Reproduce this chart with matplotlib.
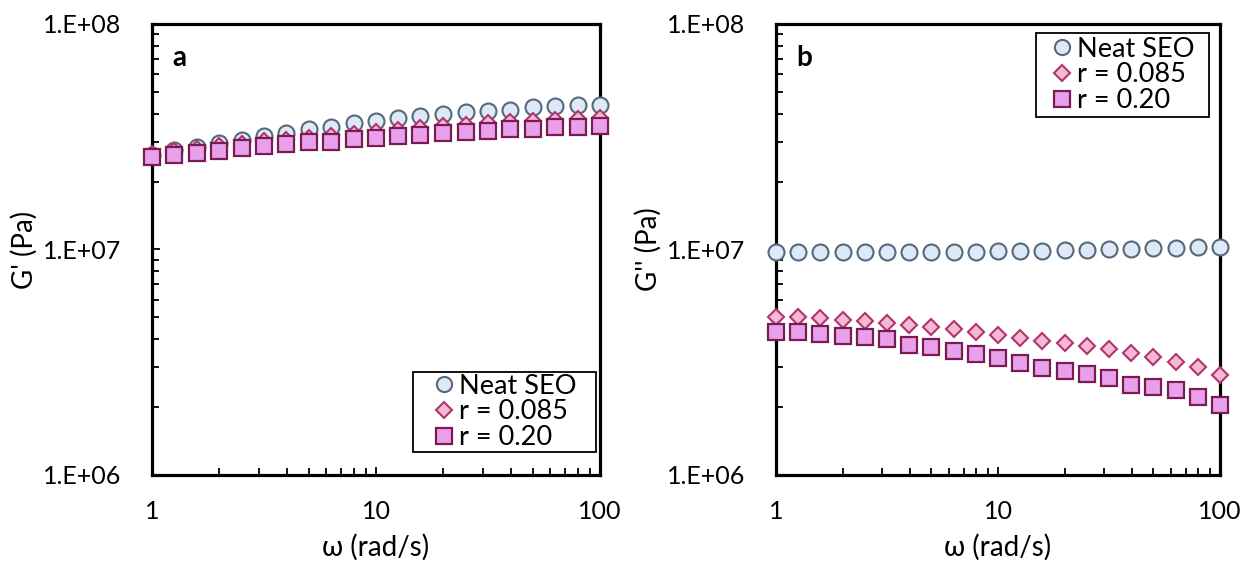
import numpy as np
import matplotlib
matplotlib.use("Agg")
import matplotlib.pyplot as plt
from matplotlib.patches import Rectangle
from matplotlib.ticker import LogLocator, NullFormatter, FixedLocator, FixedFormatter

plt.rcParams['font.family'] = ['Lato', 'DejaVu Sans']

# angular frequency (rad/s), 10 points per decade
omega = [1.0, 1.26, 1.58, 2.0, 2.51, 3.16, 3.98, 5.01, 6.31, 7.94, 10.0,
         12.6, 15.8, 20.0, 25.1, 31.6, 39.8, 50.1, 63.1, 79.4, 100.0]

# Storage modulus G' (Pa)
gp_neat = [2.62e7, 2.75e7, 2.86e7, 2.96e7, 3.06e7, 3.19e7, 3.28e7, 3.41e7, 3.51e7, 3.63e7, 3.71e7,
           3.82e7, 3.91e7, 3.99e7, 4.06e7, 4.13e7, 4.16e7, 4.27e7, 4.33e7, 4.36e7, 4.38e7]
gp_r085 = [2.64e7, 2.73e7, 2.79e7, 2.87e7, 2.94e7, 3.02e7, 3.07e7, 3.13e7, 3.18e7, 3.25e7, 3.33e7,
           3.39e7, 3.46e7, 3.52e7, 3.57e7, 3.63e7, 3.69e7, 3.71e7, 3.76e7, 3.79e7, 3.84e7]
gp_r20 = [2.56e7, 2.62e7, 2.68e7, 2.74e7, 2.81e7, 2.88e7, 2.93e7, 2.99e7, 3.01e7, 3.08e7, 3.13e7,
          3.18e7, 3.22e7, 3.28e7, 3.33e7, 3.36e7, 3.41e7, 3.43e7, 3.48e7, 3.49e7, 3.54e7]

# Loss modulus G'' (Pa)
gpp_neat = [9.71e6, 9.71e6, 9.71e6, 9.71e6, 9.71e6, 9.71e6, 9.71e6, 9.75e6, 9.75e6, 9.75e6, 9.81e6,
            9.81e6, 9.85e6, 9.92e6, 9.92e6, 1.00e7, 1.005e7, 1.015e7, 1.015e7, 1.026e7, 1.029e7]
gpp_r085 = [5.04e6, 5.04e6, 4.99e6, 4.87e6, 4.83e6, 4.73e6, 4.61e6, 4.55e6, 4.43e6, 4.31e6, 4.19e6,
            4.06e6, 3.94e6, 3.84e6, 3.73e6, 3.61e6, 3.46e6, 3.35e6, 3.18e6, 3.00e6, 2.78e6]
gpp_r20 = [4.32e6, 4.29e6, 4.22e6, 4.13e6, 4.11e6, 4.02e6, 3.77e6, 3.71e6, 3.56e6, 3.43e6, 3.29e6,
           3.13e6, 2.99e6, 2.90e6, 2.80e6, 2.68e6, 2.51e6, 2.45e6, 2.38e6, 2.22e6, 2.04e6]

series_labels = ["Neat SEO", "r = 0.085", "r = 0.20"]
x_ticks = [1, 10, 100]
x_ticklabels = ["1", "10", "100"]
y_ticks = [1e6, 1e7, 1e8]
y_ticklabels = ["1.E+06", "1.E+07", "1.E+08"]
panel_letters = ["a", "b"]
y_labels = ["G' (Pa)", "G'' (Pa)"]
x_label = "ω (rad/s)"

styles = [
    dict(marker='o', ms=11.5, mfc='#dde9f6', mec='#56687c', mew=1.5),
    dict(marker='D', ms=8.5, mfc='#f3b9d5', mec='#b3336f', mew=1.5),
    dict(marker='s', ms=12, mfc='#e8a0ea', mec='#7a1b52', mew=1.6),
]

fig = plt.figure(figsize=(12.44, 5.72), dpi=100)
ax1 = fig.add_axes([0.1222, 0.1696, 0.3601, 0.7885])
ax2 = fig.add_axes([0.6238, 0.1696, 0.3569, 0.7885])

FS_TICK = 18
FS_LAB = 20
FS_LEG = 19.5

def setup(ax, data, ylabel, letter, box):
    handles = []
    for d, st, lab in zip(data, styles, series_labels):
        h, = ax.plot(omega, d, linestyle='none', clip_on=False, zorder=3, label=lab, **st)
        handles.append(h)
    ax.set_xscale('log')
    ax.set_yscale('log')
    ax.set_xlim(1, 100)
    ax.set_ylim(1e6, 1e8)
    for s in ax.spines.values():
        s.set_linewidth(2.3)
    ax.xaxis.set_major_locator(FixedLocator(x_ticks))
    ax.xaxis.set_major_formatter(FixedFormatter(x_ticklabels))
    ax.xaxis.set_minor_locator(LogLocator(base=10, subs=np.arange(2, 10)))
    ax.xaxis.set_minor_formatter(NullFormatter())
    ax.yaxis.set_major_locator(FixedLocator(y_ticks))
    ax.yaxis.set_major_formatter(FixedFormatter(y_ticklabels))
    ax.yaxis.set_minor_locator(LogLocator(base=10, subs=np.arange(2, 10)))
    ax.yaxis.set_minor_formatter(NullFormatter())
    ax.tick_params(axis='both', which='major', direction='in', length=6, width=1.3,
                   labelsize=FS_TICK, top=False, right=False)
    ax.tick_params(axis='both', which='minor', direction='in', length=5, width=1.3,
                   top=False, right=False)
    ax.tick_params(axis='x', which='major', pad=18)
    ax.tick_params(axis='y', which='major', pad=22)
    ax.set_xlabel(x_label, fontsize=FS_LAB, labelpad=8)
    ax.set_ylabel(ylabel, fontsize=FS_LAB, labelpad=4)
    ax.text(0.045, 0.925, letter, transform=ax.transAxes, fontsize=FS_LAB, fontweight='bold',
            va='center', ha='left')
    # legend frame drawn as a rectangle, legend content centered inside it
    rect = Rectangle((box[0], box[1]), box[2], box[3], transform=ax.transAxes,
                     facecolor='white', edgecolor='black', linewidth=1.3, zorder=4)
    ax.add_patch(rect)
    leg = ax.legend(handles=handles, loc='center', bbox_to_anchor=box, fontsize=FS_LEG,
                    frameon=False, handlelength=0.8, handletextpad=0.15, borderpad=0.1,
                    labelspacing=0.02, borderaxespad=0)
    leg.set_zorder(5)
    for h in leg.legend_handles:
        h.set_markersize(h.get_markersize() * 0.95)

setup(ax1, [gp_neat, gp_r085, gp_r20], y_labels[0], panel_letters[0], (0.5826, 0.051, 0.4085, 0.1774))
setup(ax2, [gpp_neat, gpp_r085, gpp_r20], y_labels[1], panel_letters[1], (0.5856, 0.7938, 0.3896, 0.1863))

fig.savefig("out.png", dpi=100)
